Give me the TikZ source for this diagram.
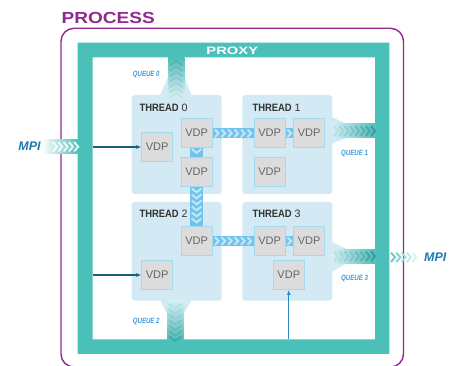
\documentclass[tikz,border=0pt]{standalone}
\usepackage{fontspec}
\setmainfont{Liberation Sans}
\usetikzlibrary{arrows.meta}
\definecolor{purpleC}{HTML}{93278F}
\definecolor{tealC}{HTML}{4BC0B9}
\definecolor{tealD}{HTML}{2F9498}
\definecolor{tealL}{HTML}{D3EEF2}
\definecolor{threadC}{HTML}{D3EAF4}
\definecolor{vdpFill}{HTML}{DCDCDC}
\definecolor{vdpEdge}{HTML}{A4DAEF}
\definecolor{vdpShade}{HTML}{ABABAB}
\definecolor{linkC}{HTML}{72C3EB}
\definecolor{linkL}{HTML}{C2E7F8}
\definecolor{queueT}{HTML}{3B9BD8}
\definecolor{mpiC}{HTML}{1F78AE}
\definecolor{arrowD}{HTML}{1D5D7E}
\definecolor{arrowB}{HTML}{2A8DC5}
\begin{document}
\begin{tikzpicture}[x=1pt,y=-1pt,
  threadbox/.style={fill=threadC, rounded corners=3, minimum width=90, minimum height=99, inner sep=0},
  threadlabel/.style={anchor=base west, inner sep=0, font=\fontsize{10.7}{10.7}\selectfont, text=black!80},
  vdp/.style={fill=vdpFill, draw=vdpEdge, line width=0.8, minimum width=31, minimum height=29, inner sep=0,
    font=\fontsize{11}{11}\selectfont, text=black!60,
    path picture={\draw[vdpShade, line width=1.2] (path picture bounding box.north west) -- (path picture bounding box.south west) -- (path picture bounding box.south east);}},
  queuelabel/.style={anchor=base west, inner sep=0, text=queueT, font=\bfseries\itshape\fontsize{7.6}{7.6}\selectfont},
  mpilabel/.style={anchor=base west, inner sep=0, text=mpiC, font=\bfseries\itshape\fontsize{12.5}{12.5}\selectfont},
  chev/.style={line width=2, line join=miter},
  conn/.style={line width=1.2, -{Latex[length=5,width=4]}}
]
\useasboundingbox (0,0) rectangle (456,366);

% process
\node[anchor=base west, inner sep=0, text=purpleC, font=\bfseries\fontsize{16}{16}\selectfont] (proc) at (61.5,23.3) {\scalebox{1.19}[1]{PROCESS}};
\draw[purpleC, line width=1.4, rounded corners=13] (61,28.3) rectangle (403.5,367);

% proxy frame
\fill[tealC, even odd rule] (77.7,42.7) rectangle (389.3,354) (92.7,57.3) rectangle (375,339.3);
\node[text=white, inner sep=0, font=\bfseries\fontsize{10.7}{10.7}\selectfont] (proxy) at (232.3,50.5) {\scalebox{1.38}[1]{PROXY}};

% threads
\node[threadbox] (t0) at (176.7,144.5) {};
\node[threadbox] (t1) at (287.3,144.5) {};
\node[threadbox, minimum height=98.7] (t2) at (176.7,251.35) {};
\node[threadbox, minimum height=98.7] (t3) at (287.3,251.35) {};

% queue funnels
\fill[threadC] (160,95.5) -- (168,77) -- (168,57.3) -- (184.3,57.3) -- (184.3,77) -- (191.7,95.5) -- cycle;
\fill[threadC] (160,300) -- (167,314) -- (167,339.3) -- (183.3,339.3) -- (183.3,314) -- (191.7,300) -- cycle;
\fill[threadC] (331.8,117) -- (347,124) -- (375,124) -- (375,138) -- (347,138) -- (331.8,143.3) -- cycle;
\fill[threadC] (331.8,241.7) -- (347,249.3) -- (375,249.3) -- (375,263.3) -- (347,263.3) -- (331.8,271.7) -- cycle;

% queue bands
\shade[top color=tealC, bottom color=tealL] (168,57.3) rectangle (184.3,95);
\foreach \i in {0,...,6}{
  \pgfmathsetmacro\yy{61+5.4*\i}
  \pgfmathsetmacro\pp{70-10*\i}
  \draw[chev, tealD!\pp!tealL] (170,\yy+4.5) -- (176.2,\yy) -- (182.4,\yy+4.5);
}
\shade[top color=tealL, bottom color=tealC] (167,301) rectangle (183.3,339.3);
\foreach \i in {0,...,6}{
  \pgfmathsetmacro\yy{304+5.4*\i}
  \pgfmathsetmacro\pp{15+11*\i}
  \draw[chev, tealD!\pp!tealL] (169,\yy) -- (175.2,\yy+4.5) -- (181.4,\yy);
}
\shade[left color=tealL, right color=tealC] (332.5,124) rectangle (375,138);
\foreach \i in {0,...,7}{
  \pgfmathsetmacro\xx{334+5.3*\i}
  \pgfmathsetmacro\pp{15+11*\i}
  \draw[chev, tealD!\pp!tealL] (\xx,126.3) -- (\xx+4,131) -- (\xx,135.7);
}
\shade[left color=tealL, right color=tealC] (332.5,249.3) rectangle (375,263.3);
\foreach \i in {0,...,7}{
  \pgfmathsetmacro\xx{334+5.3*\i}
  \pgfmathsetmacro\pp{15+11*\i}
  \draw[chev, tealD!\pp!tealL] (\xx,251.6) -- (\xx+4,256.3) -- (\xx,261);
}
% outgoing MPI chevrons
\foreach \i in {0,...,4}{
  \pgfmathsetmacro\xx{391+5.3*\i}
  \pgfmathsetmacro\pp{80-15*\i}
  \draw[chev, tealC!\pp!white] (\xx,252.6) -- (\xx+4,257.3) -- (\xx,262);
}
% incoming MPI band
\shade[left color=white, right color=tealC] (42,139.5) rectangle (77.7,154);
\foreach \i in {0,...,4}{
  \pgfmathsetmacro\xx{53+5.3*\i}
  \draw[chev, white, opacity=0.85] (\xx,142) -- (\xx+4,146.7) -- (\xx,151.4);
}

% internal links
\fill[linkC] (212.3,128.3) rectangle (253.7,138.3);
\fill[linkC] (285.7,128.3) rectangle (293.3,138.3);
\fill[linkC] (212.3,236) rectangle (253.7,246);
\fill[linkC] (285.7,236) rectangle (293.3,246);
\fill[linkC] (190,147.5) rectangle (203.3,226);
\foreach \xx in {215,221.5,228,234.5,241,247.5,287.5}{
  \draw[chev, linkL] (\xx,129.5) -- (\xx+3.6,133.3) -- (\xx,137.1);
  \draw[chev, linkL] (\xx,237.2) -- (\xx+3.6,241) -- (\xx,244.8);
}
\foreach \yy in {149,188.5,194.5,200.5,206.5,212.5,218.5}{
  \draw[chev, linkL] (191.8,\yy) -- (196.6,\yy+3.8) -- (201.4,\yy);
}

% VDPs
\node[vdp] (v0a) at (157.2,147) {VDP};
\node[vdp] (v0b) at (196.6,133.2) {VDP};
\node[vdp] (v0c) at (196.6,171.7) {VDP};
\node[vdp] (v1a) at (269.7,133.2) {VDP};
\node[vdp] (v1b) at (309.2,133.2) {VDP};
\node[vdp] (v1c) at (269.7,171.7) {VDP};
\node[vdp] (v2b) at (196.6,240.9) {VDP};
\node[vdp] (v2a) at (157.2,275) {VDP};
\node[vdp] (v3a) at (269.7,240.9) {VDP};
\node[vdp] (v3b) at (309.2,240.9) {VDP};
\node[vdp] (v3c) at (288.8,275) {VDP};

% thread labels
\node[threadlabel] (l0) at (139.3,111.7) {\scalebox{0.88}[1]{\bfseries THREAD} 0};
\node[threadlabel] (l1) at (252.3,111.7) {\scalebox{0.88}[1]{\bfseries THREAD} 1};
\node[threadlabel] (l2) at (139.3,217.5) {\scalebox{0.88}[1]{\bfseries THREAD} 2};
\node[threadlabel] (l3) at (252.3,217.8) {\scalebox{0.88}[1]{\bfseries THREAD} 3};

% queue labels
\node[queuelabel] (q0) at (132.7,76.7) {\scalebox{0.8}[1]{QUEUE 0}};
\node[queuelabel] (q1) at (341,155.7) {\scalebox{0.8}[1]{QUEUE 1}};
\node[queuelabel] (q2) at (132.7,324) {\scalebox{0.8}[1]{QUEUE 2}};
\node[queuelabel] (q3) at (341,281) {\scalebox{0.8}[1]{QUEUE 3}};

% MPI labels
\node[mpilabel] (mpiin) at (18.3,150.7) {MPI};
\node[mpilabel] (mpiout) at (424,261.7) {MPI};

% arrows
\coordinate (a0) at (92.7,147);
\coordinate (a2) at (92.7,275);
\coordinate (a3) at (288.8,339.3);
\draw[conn, arrowD] (a0) -- (v0a.west);
\draw[conn, arrowD] (a2) -- (v2a.west);
\draw[conn, arrowB] (a3) -- (v3c.south);
\end{tikzpicture}
\end{document}
